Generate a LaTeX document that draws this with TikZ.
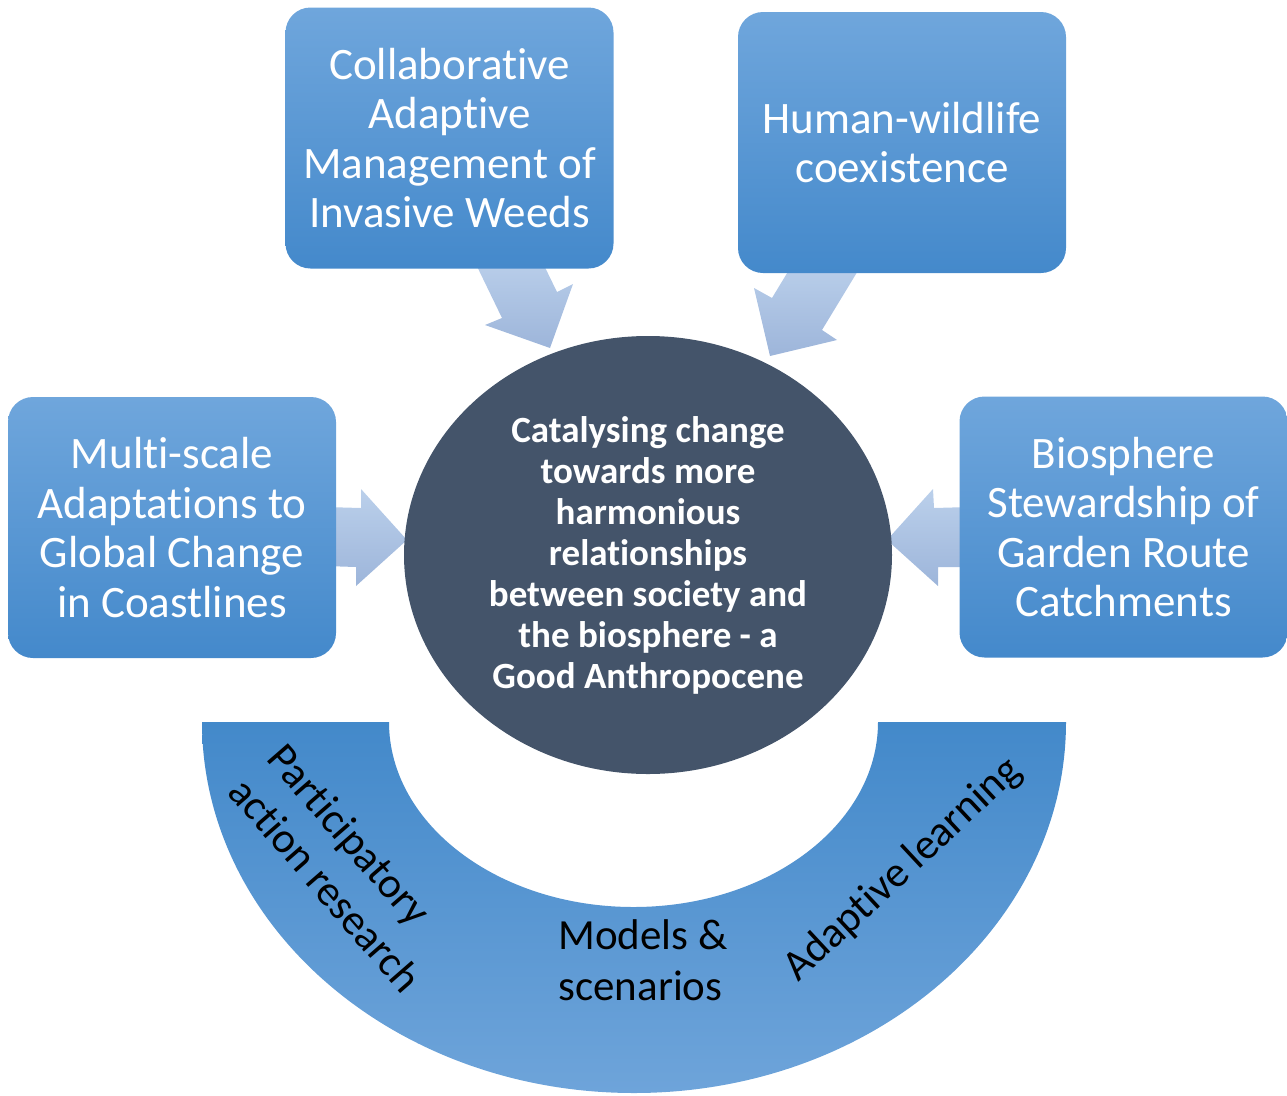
\documentclass[tikz,border=0pt]{standalone}
\usepackage{fontspec}
\setmainfont{Carlito}[Ligatures=NoCommon]
\usetikzlibrary{shapes.geometric}
\definecolor{boxtop}{HTML}{6FA6DC}
\definecolor{boxbot}{HTML}{4489CB}
\definecolor{corecol}{HTML}{44546A}
\definecolor{bandtop}{HTML}{4389CA}
\definecolor{bandbot}{HTML}{6EA4DA}
\definecolor{arrtop}{HTML}{BBD0EB}
\definecolor{arrbot}{HTML}{9DB5DA}
\tikzset{
  themebox/.style={rectangle, rounded corners=25pt, minimum width=328pt, minimum height=261pt,
    top color=boxtop, bottom color=boxbot, draw=none, text=white, align=center,
    inner sep=0pt, font=\fontsize{45}{49.5}\selectfont},
  blockarrow/.style={top color=arrtop, bottom color=arrbot, draw=none},
  bandtext/.style={text=black, inner sep=0pt, font=\fontsize{43}{51}\selectfont},
}
\begin{document}
\begin{tikzpicture}[x=1pt,y=1pt]
\useasboundingbox (0,0) rectangle (1287,-1095);
% block arrows (drawn first, their shafts run under the boxes)
\path[blockarrow] (471.5,-255) -- (502,-318) -- (485,-325) -- (550,-348) -- (573,-284) -- (557,-292) -- (539,-255) -- cycle;
\path[blockarrow] (795,-260) -- (772,-298) -- (754,-288) -- (770,-356) -- (837,-340) -- (822,-330) -- (864.5,-260) -- cycle;
\path[blockarrow] (325,-507) -- (361,-508) -- (361,-489) -- (407,-540) -- (356,-586) -- (356,-567) -- (325,-566) -- cycle;
\path[blockarrow] (970,-507) -- (934,-508) -- (933,-489) -- (887,-540) -- (938,-586) -- (938,-567) -- (970,-567) -- cycle;
% boxes
\node[themebox] (cawm) at (449.5,-138) {Collaborative\\Adaptive\\Management of\\Invasive Weeds};
\node[themebox] (hwc) at (902,-142.5) {Human-wildlife\\coexistence};
\node[themebox] (msa) at (172,-527.5) {Multi-scale\\Adaptations to\\Global Change\\in Coastlines};
\node[themebox] (bsg) at (1123.5,-527) {Biosphere\\Stewardship of\\Garden Route\\Catchments};
% central ellipse
\node[ellipse, fill=corecol, draw=none, minimum width=488pt, minimum height=438pt, inner sep=0pt,
      text=white, align=center, font=\bfseries\fontsize{37}{41}\selectfont] (core) at (648,-555)
  {Catalysing change\\towards more\\harmonious\\relationships\\between society and\\the biosphere - a\\Good Anthropocene};
% lower band
\path[top color=bandtop, bottom color=bandbot, draw=none]
  (202,-722) arc[start angle=180, end angle=360, x radius=432, y radius=371]
  -- (878,-722) arc[start angle=0, end angle=-180, x radius=244.5, y radius=185] -- cycle;
\node[bandtext, align=left, rotate=-49] (par) at (345,-868) {Participatory\\action research};
\node[bandtext, align=left] (mod) at (643,-960) {Models \&\\scenarios};
\node[bandtext, rotate=43] (adl) at (903,-870) {Adaptive learning};
\end{tikzpicture}
\end{document}
